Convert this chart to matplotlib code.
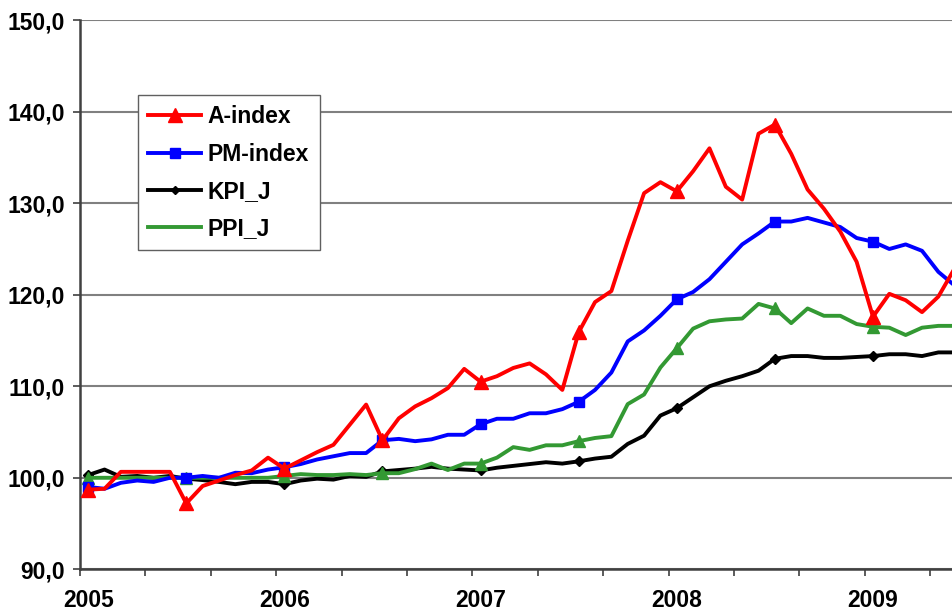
import matplotlib
matplotlib.use("Agg")
import matplotlib.pyplot as plt
from matplotlib.lines import Line2D
from matplotlib.ticker import FuncFormatter
import numpy as np

plt.rcParams['font.family'] = ['Liberation Sans', 'DejaVu Sans']
plt.rcParams['font.weight'] = 'bold'

# monthly index values, Jan 2005 onwards (visible part of the chart)
a_index = [98.7, 98.8, 100.65, 100.65, 100.65, 100.65, 97.2, 99.1, 99.7, 100.3, 100.8, 102.2,
           101.0, 101.9, 102.8, 103.6, 105.8, 108.0, 104.1, 106.5, 107.8, 108.7, 109.8, 111.9,
           110.5, 111.1, 112.0, 112.5, 111.3, 109.6, 115.9, 119.2, 120.4, 125.9, 131.1, 132.3,
           131.3, 133.5, 136.0, 131.8, 130.4, 137.6, 138.6, 135.4, 131.5, 129.4, 126.9, 123.6,
           117.6, 120.1, 119.4, 118.1, 119.8, 122.9]
pm_index = [99.0, 98.8, 99.45, 99.7, 99.55, 100.0, 100.0, 100.2, 100.0, 100.55, 100.5, 100.9,
            101.15, 101.5, 102.0, 102.35, 102.7, 102.7, 104.1, 104.25, 104.0, 104.2, 104.7, 104.7,
            105.85, 106.45, 106.45, 107.05, 107.05, 107.5, 108.3, 109.6, 111.5, 114.9, 116.1, 117.7,
            119.5, 120.3, 121.7, 123.6, 125.5, 126.7, 128.0, 128.0, 128.4, 127.9, 127.4, 126.2,
            125.8, 125.0, 125.5, 124.8, 122.5, 121.0]
kpi_j = [100.3, 100.9, 100.1, 100.2, 100.0, 100.2, 99.9, 99.75, 99.55, 99.3, 99.55, 99.55,
         99.3, 99.7, 99.9, 99.8, 100.2, 100.1, 100.7, 100.85, 101.0, 101.2, 101.0, 100.9,
         100.8, 101.1, 101.3, 101.5, 101.7, 101.55, 101.8, 102.1, 102.3, 103.7, 104.6, 106.8,
         107.6, 108.8, 110.0, 110.6, 111.1, 111.7, 113.0, 113.3, 113.3, 113.1, 113.1, 113.2,
         113.3, 113.5, 113.5, 113.3, 113.7, 113.7]
ppi_j = [100.0, 100.0, 100.0, 100.0, 100.0, 100.0, 100.0, 100.0, 100.0, 100.0, 100.0, 100.0,
         100.2, 100.4, 100.3, 100.3, 100.4, 100.3, 100.5, 100.5, 100.95, 101.55, 100.85, 101.55,
         101.55, 102.2, 103.35, 103.05, 103.55, 103.55, 104.0, 104.35, 104.55, 108.05, 109.1, 112.05,
         114.15, 116.3, 117.1, 117.3, 117.4, 119.0, 118.5, 116.9, 118.5, 117.7, 117.7, 116.8,
         116.5, 116.4, 115.6, 116.4, 116.6, 116.6]
years = ['2005', '2006', '2007', '2008', '2009']

months = np.arange(len(a_index))

fig = plt.figure(figsize=(9.52, 6.13), dpi=100)
ax = fig.add_axes([80 / 952, 43.7 / 613, 872 / 952, 549.1 / 613])

lw = 2.8
ax.plot(months, a_index, color='#ff0000', lw=lw, marker='^', ms=10, markevery=6, zorder=5)
ax.plot(months, pm_index, color='#0000ff', lw=lw, marker='s', ms=6.5, markevery=6, zorder=4)
ax.plot(months, kpi_j, color='black', lw=lw, marker='D', ms=5, markevery=6, zorder=3)
ax.plot(months, ppi_j, color='#339933', lw=lw, marker='^', ms=8, markevery=6, zorder=3)

ax.set_ylim(90, 150)
ax.set_xlim(-0.5, -0.5 + 872 / 16.35)
ax.set_yticks(np.arange(90, 151, 10))
ax.yaxis.set_major_formatter(FuncFormatter(lambda v, p: f"{v:.1f}".replace('.', ',')))
ax.grid(axis='y', color='#808080', lw=1.5)
ax.set_axisbelow(True)

ax.set_xticks(np.arange(-0.5, 53, 4))
ax.set_xticklabels([])
ax.set_xticks(np.arange(0, 49, 12), minor=True)
ax.set_xticklabels(years, minor=True)
ax.tick_params(axis='x', which='major', length=5, width=1.2, color='#404040')
ax.tick_params(axis='x', which='minor', length=0, pad=14, labelsize=16.5)
ax.tick_params(axis='y', length=5, width=1.2, color='#404040', labelsize=16.5, pad=6)

for s in ['top', 'right']:
    ax.spines[s].set_visible(False)
for s in ['left', 'bottom']:
    ax.spines[s].set_color('#404040')
    ax.spines[s].set_linewidth(1.8)

handles = [
    Line2D([], [], color='#ff0000', lw=lw, marker='^', ms=10),
    Line2D([], [], color='#0000ff', lw=lw, marker='s', ms=6.5),
    Line2D([], [], color='black', lw=lw, marker='D', ms=4.5),
    Line2D([], [], color='#339933', lw=lw),
]
leg = fig.legend(handles, ['A-index', 'PM-index', 'KPI_J', 'PPI_J'],
                 loc='upper left', bbox_to_anchor=(138 / 952, 1 - 95 / 613),
                 fancybox=False, framealpha=1, edgecolor='#606060',
                 prop={'size': 16.5, 'weight': 'bold'}, handlelength=2.3,
                 labelspacing=0.62, borderpad=0.45, handletextpad=0.3,
                 borderaxespad=0)
leg.get_frame().set_linewidth(1.0)

fig.savefig('out.png', dpi=100)
